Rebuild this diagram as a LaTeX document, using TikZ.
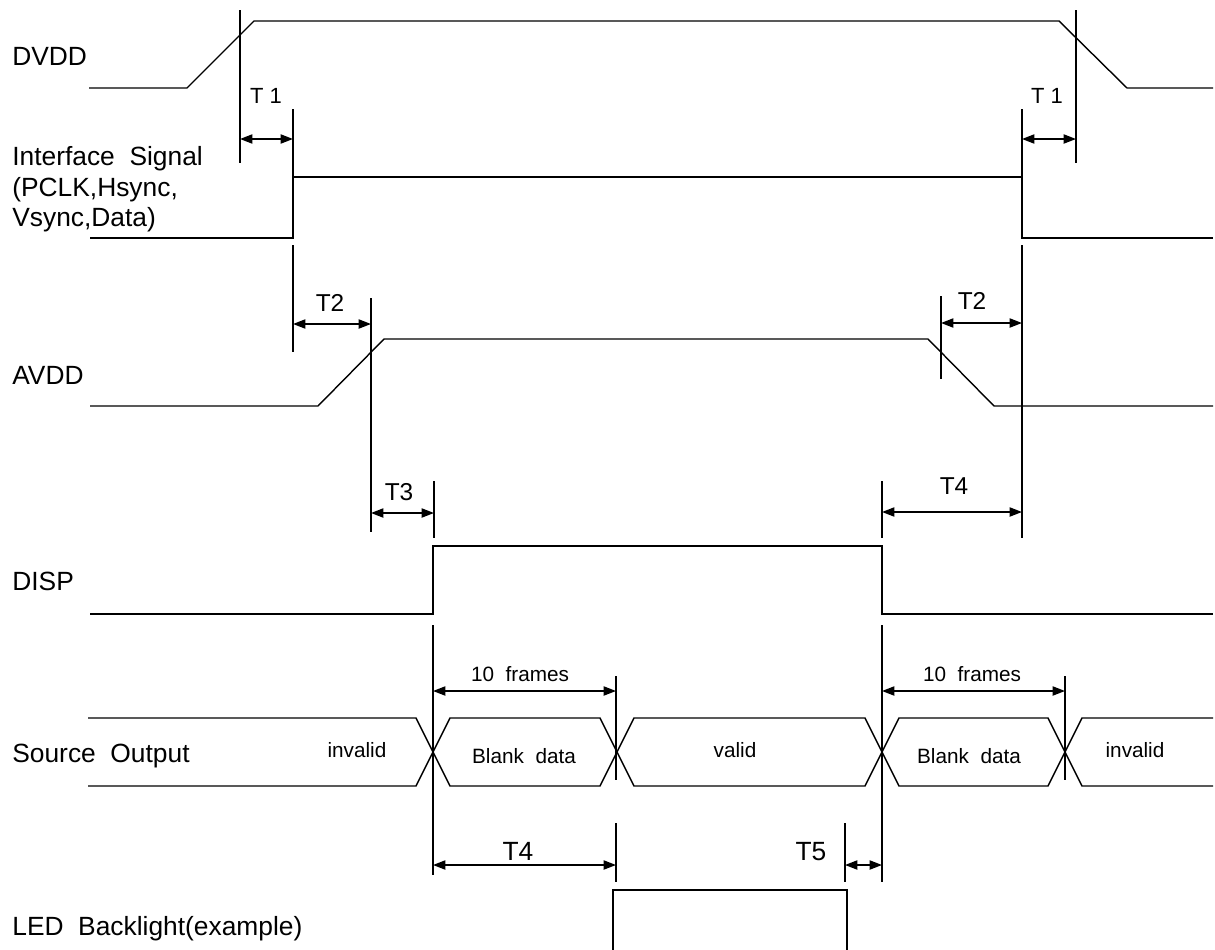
\documentclass[tikz,border=0pt]{standalone}
\usepackage{fontspec}
\setmainfont{Liberation Sans}
\usetikzlibrary{arrows.meta}
\newcommand{\widesp}{\spaceskip=0.556em plus 0.1em\relax}

\begin{document}
\begin{tikzpicture}[x=0.02cm,y=-0.02cm,>={Triangle[length=7pt,width=5.2pt]},
  sig/.style={line width=0.8pt},
  guide/.style={line width=0.7pt},
  dim/.style={<->,line width=0.8pt},
  siglabel/.style={anchor=base west,inner sep=0pt,font=\fontsize{15}{18}\selectfont\widesp},
  datalabel/.style={anchor=base,inner sep=0pt,font=\fontsize{11.8}{14}\selectfont\widesp},
  tlabel/.style={anchor=base,inner sep=0pt,font=\fontsize{13.9}{16}\selectfont}]
\useasboundingbox (0,0) rectangle (1215,950);

% signal names
\node[siglabel] (ldvdd) at (12,65) {DVDD};
\node[siglabel] (lif1) at (12,165) {Interface Signal};
\node[siglabel] (lif2) at (12,196) {(PCLK,Hsync,};
\node[siglabel] (lif3) at (12,226) {Vsync,Data)};
\node[siglabel] (lavdd) at (12,384) {AVDD};
\node[siglabel] (ldisp) at (12,590) {DISP};
\node[siglabel] (lsrc) at (12,762) {Source Output};
\node[siglabel] (lled) at (12,935) {LED Backlight(example)};

% waveforms
\draw[sig] (89,88) -- (187,88) -- (254,21) -- (1059,21) -- (1127,88) -- (1213,88);
\draw[sig] (90,238) -- (293,238) -- (293,177) -- (1022,177) -- (1022,238) -- (1213,238);
\draw[sig] (90,406) -- (318,406) -- (384,339) -- (928,339) -- (994,406) -- (1213,406);
\draw[sig] (90,614) -- (433,614) -- (433,546) -- (882,546) -- (882,614) -- (1213,614);
\draw[sig] (613,950) -- (613,890) -- (847,890) -- (847,950);

% source output data
\draw[sig] (88,718) -- (416,718) -- (433,752) -- (416,786) -- (88,786);
\draw[sig] (450,718) -- (600,718) -- (617,752) -- (600,786) -- (450,786) -- (433,752) -- cycle;
\draw[sig] (634,718) -- (865,718) -- (882,752) -- (865,786) -- (634,786) -- (617,752) -- cycle;
\draw[sig] (899,718) -- (1048,718) -- (1065,752) -- (1048,786) -- (899,786) -- (882,752) -- cycle;
\draw[sig] (1213,718) -- (1082,718) -- (1065,752) -- (1082,786) -- (1213,786);
\node[datalabel] (dinv1) at (357,757) {invalid};
\node[datalabel] (dblk1) at (524,763) {Blank data};
\node[datalabel] (dval) at (735,757) {valid};
\node[datalabel] (dblk2) at (969,763) {Blank data};
\node[datalabel] (dinv2) at (1135,757) {invalid};

% guide lines
\draw[guide] (240,10) -- (240,163);
\draw[guide] (293,109) -- (293,238);
\draw[guide] (293,245) -- (293,352);
\draw[guide] (1076,10) -- (1076,163);
\draw[guide] (1022,109) -- (1022,238);
\draw[guide] (1022,245) -- (1022,538);
\draw[guide] (371,298) -- (371,532);
\draw[guide] (941,296) -- (941,379);
\draw[guide] (434,481) -- (434,538);
\draw[guide] (433,625) -- (433,875);
\draw[guide] (882,481) -- (882,538);
\draw[guide] (882,625) -- (882,882);
\draw[guide] (616,676) -- (616,780);
\draw[guide] (616,823) -- (616,882);
\draw[guide] (1065,676) -- (1065,780);
\draw[guide] (845,823) -- (845,882);

% timing arrows
\coordinate (t1a) at (240,139); \coordinate (t1b) at (293,139);
\coordinate (t1c) at (1022,139); \coordinate (t1d) at (1076,139);
\coordinate (t2a) at (293,324); \coordinate (t2b) at (371,324);
\coordinate (t2c) at (941,323); \coordinate (t2d) at (1022,323);
\coordinate (t3a) at (371,513); \coordinate (t3b) at (434,513);
\coordinate (t4a) at (882,512); \coordinate (t4b) at (1022,512);
\coordinate (fra) at (433,691); \coordinate (frb) at (616,691);
\coordinate (frc) at (882,691); \coordinate (frd) at (1065,691);
\coordinate (t4c) at (433,865); \coordinate (t4d) at (616,865);
\coordinate (t5a) at (845,865); \coordinate (t5b) at (882,865);
\draw[dim] (t1a) -- (t1b);
\draw[dim] (t1c) -- (t1d);
\draw[dim] (t2a) -- (t2b);
\draw[dim] (t2c) -- (t2d);
\draw[dim] (t3a) -- (t3b);
\draw[dim] (t4a) -- (t4b);
\draw[dim] (fra) -- (frb);
\draw[dim] (frc) -- (frd);
\draw[dim] (t4c) -- (t4d);
\draw[dim] (t5a) -- (t5b);

\node[tlabel,font=\fontsize{12.5}{14}\selectfont] (lt1a) at (266,103) {T 1};
\node[tlabel,font=\fontsize{12.5}{14}\selectfont] (lt1b) at (1047,103) {T 1};
\node[tlabel] (lt2a) at (330,311) {T2};
\node[tlabel] (lt2b) at (972,309) {T2};
\node[tlabel] (lt3) at (399,500) {T3};
\node[tlabel] (lt4a) at (954,494) {T4};
\node[datalabel] (lfr1) at (520,681) {10 frames};
\node[datalabel] (lfr2) at (972,681) {10 frames};
\node[tlabel,font=\fontsize{15}{18}\selectfont] (lt4b) at (518,860) {T4};
\node[tlabel,font=\fontsize{15}{18}\selectfont] (lt5) at (811,860) {T5};
\end{tikzpicture}
\end{document}
